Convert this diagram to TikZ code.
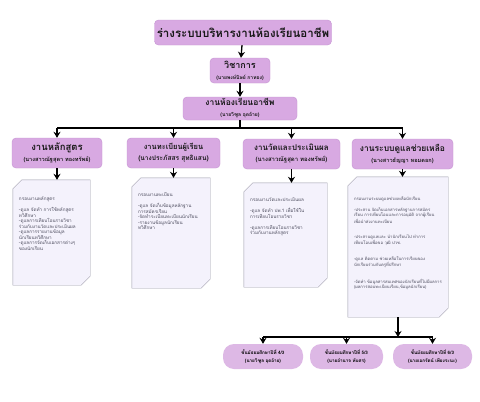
\documentclass[tikz,border=0pt]{standalone}
\usepackage{fontspec}
\newfontfamily\thaifont[Script=Thai]{Loma}
\usepackage{tikz}
\usetikzlibrary{
    arrows.meta,
    positioning,
    calc
}
\definecolor{headfill}{HTML}{D8A9E2}
\definecolor{headborder}{HTML}{C593D2}
\definecolor{pillfill}{HTML}{DDB8E5}
\definecolor{docfill}{HTML}{F4F2FC}
\definecolor{docborder}{HTML}{9C9AAA}
\definecolor{doctext}{HTML}{4A4A5C}
\tikzset{
    headbox/.style={
        rectangle, draw=headborder, fill=headfill,
        rounded corners=4pt, align=center, inner sep=1pt,
        font=\thaifont\bfseries, text=black!90
    },
    docarea/.style={
        rectangle, draw=none, inner sep=0pt
    },
    docline/.style={
        draw=docborder, fill=docfill, line width=0.4pt
    },
    docnote/.style={
        anchor=north west, align=left, inner sep=0pt,
        text=doctext, font=\thaifont\fontsize{4.6}{5.5}\selectfont
    },
    pill/.style={
        rectangle, fill=pillfill, rounded corners=11pt,
        align=center, inner sep=1pt,
        font=\thaifont\bfseries\fontsize{4.6}{8}\selectfont
    },
    flow/.style={
        -{Stealth[length=6pt,width=7pt]}, line width=1.3pt
    },
    bus/.style={
        line width=1.3pt
    },
}
\newcommand\docshape[1]{%
    \path[docline] ([xshift=9pt]#1.north west) -- (#1.north east)
        -- ([yshift=9pt]#1.south east) -- ([xshift=-9pt]#1.south east)
        -- (#1.south west) -- ([yshift=-9pt]#1.north west) -- cycle;}

\begin{document}
\begin{tikzpicture}[x=1pt, y=-1pt]

    \fill[white] (0,0) rectangle (480,402);
    \useasboundingbox (0,0) rectangle (480,402);

    % Top chain
    \node[headbox, minimum width=177pt, minimum height=25pt,
          font=\thaifont\bfseries\fontsize{11.5}{13}\selectfont] (title) at (243,32.5)
          {ร่างระบบบริหารงานห้องเรียนอาชีพ};
    \node[headbox, minimum width=60pt, minimum height=25pt] (acad) at (240,70.5)
          {{\fontsize{9}{10}\selectfont วิชาการ}\\[-1pt]{\fontsize{5}{6}\selectfont (นายพงษ์นิษย์ กาทอง)}};
    \node[headbox, minimum width=114pt, minimum height=23pt] (career) at (240,108.5)
          {{\fontsize{8.5}{10}\selectfont งานห้องเรียนอาชีพ}\\[-1pt]{\fontsize{5}{6}\selectfont (นายวิฑูล อุดอ้าย)}};

    \draw[flow] (title) -- (acad);
    \draw[flow] (acad) -- (career);

    % Work groups
    \node[headbox, minimum width=90pt, minimum height=30pt] (curr) at (57,153)
          {{\fontsize{9.5}{11}\selectfont งานหลักสูตร}\\[-1pt]{\fontsize{5.6}{7}\selectfont (นางสาวณัฐสุดา ทองทรัพย์)}};
    \node[headbox, minimum width=93pt, minimum height=30pt] (regis) at (173.5,153)
          {{\fontsize{7.5}{9}\selectfont งานทะเบียนผู้เรียน}\\[-1pt]{\fontsize{6.6}{8}\selectfont (นางประภัสสร สุทธิแสน)}};
    \node[headbox, minimum width=97pt, minimum height=30pt] (eval) at (291.5,154)
          {{\fontsize{8}{9.5}\selectfont งานวัดและประเมินผล}\\[-1pt]{\fontsize{6}{7}\selectfont (นางสาวณัฐสุดา ทองทรัพย์)}};
    \node[headbox, minimum width=101pt, minimum height=30pt] (care) at (402.5,154)
          {{\fontsize{8.5}{10}\selectfont งานระบบดูแลช่วยเหลือ}\\[-1pt]{\fontsize{5.6}{7}\selectfont (นางสาวธัญญา หอมดอก)}};

    \coordinate (split) at (career.south |- 0,128);
    \draw[bus] (career.south) -- (split);
    \draw[bus] (curr.north |- split) -- (care.north |- split);
    \foreach \g in {curr,regis,eval,care}
        \draw[flow] (\g.north |- split) -- (\g.north);

    % Task frames
    \node[docarea, minimum width=77pt, minimum height=105pt] (currdoc) at (51.5,232.5) {};
    \node[docarea, minimum width=78pt, minimum height=110pt] (regisdoc) at (171,233) {};
    \node[docarea, minimum width=83pt, minimum height=104pt] (evaldoc) at (285.5,235) {};
    \node[docarea, minimum width=100pt, minimum height=140pt] (caredoc) at (398,247) {};
    \foreach \d in {currdoc,regisdoc,evaldoc,caredoc}
        {\docshape{\d}}

    \foreach \g in {curr,regis,eval,care}
        \draw[flow] (\g.south) -- (\g.south |- \g doc.north);

    \node[docnote] (currtext) at ([xshift=6pt,yshift=-17pt]currdoc.north west) {
        กรอบงานหลักสูตร\\[5.5pt]
        -ดูแล จัดทำ การใช้หลักสูตร\\
        ทวิศึกษา\\
        -ดูแลการเทียบโอนรายวิชา\\
        ร่วมกับงานวัดและประเมินผล\\
        -ดูแลการรายงานข้อมูล\\
        นักเรียนทวิศึกษา\\
        -ดูแลการจัดเก็บเอกสารต่างๆ\\
        ของนักเรียน
    };
    \node[docnote] (registext) at ([xshift=6pt,yshift=-15pt]regisdoc.north west) {
        กรอบงานทะเบียน\\[5.5pt]
        -ดูแล จัดเก็บข้อมูลหลักฐาน\\
        การสมัครเรียน\\
        -จัดทำระเบียนทะเบียนนักเรียน\\
        -รายงานข้อมูลนักเรียน\\
        ทวิศึกษา
    };
    \node[docnote] (evaltext) at ([xshift=6pt,yshift=-15pt]evaldoc.north west) {
        กรอบงานวัดและประเมินผล\\[5.5pt]
        -ดูแล จัดทำ ปพ.1 เพื่อใช้ใน\\
        การเทียบโอนรายวิชา\\[5.5pt]
        -ดูแลการเทียบโอนรายวิชา\\
        ร่วมกับงานหลักสูตร
    };
    \node[docnote, font=\thaifont\fontsize{4.2}{5.2}\selectfont] (caretext)
          at ([xshift=6pt,yshift=-20pt]caredoc.north west) {
        กรอบงานระบบดูแลช่วยเหลือนักเรียน\\[6pt]
        -ประสาน จัดเก็บเอกสารหลักฐานการสมัคร\\
        เรียน การเทียบโอนและการอนุมัติ จากผู้เรียน\\
        เพื่อนำส่งงานทะเบียน\\[10pt]
        -ประสานดูแลและ นำนักเรียนไป ทำการ\\
        เทียบโอนเพื่อขอ วุฒิ ปวช.\\[10pt]
        -ดูแล ติดตาม ช่วยเหลือในการเรียนของ\\
        นักเรียนร่วมกับครูที่ปรึกษา\\[10pt]
        -จัดทำ ข้อมูลสารสนเทศของนักเรียนที่ไม่มีผลการ\\
        (ผลการสอบทะเบียนเรียน,ข้อมูลนักเรียน)
    };

    % Classes
    \node[pill, minimum width=80pt, minimum height=25pt] (m4) at (263,356.5)
          {ชั้นมัธยมศึกษาปีที่ 4/3\\(นายวิฑูล อุดอ้าย)};
    \node[pill, minimum width=73pt, minimum height=25pt] (m5) at (346.5,356.5)
          {ชั้นมัธยมศึกษาปีที่ 5/3\\(นายอำนาจ ทับศร)};
    \node[pill, minimum width=79pt, minimum height=25pt] (m6) at (432.5,356.5)
          {ชั้นมัธยมศึกษาปีที่ 6/3\\(นายเอกรัตน์ เพียงระนะ)};

    \coordinate (join) at (caredoc.south |- 0,337);
    \draw[flow] (caredoc.south) -- (join);
    \draw[bus] (m4.north |- join) -- (m6.north |- join);
    \foreach \m in {m4,m5,m6}
        \draw[flow] (\m.north |- join) -- (\m.north);

\end{tikzpicture}
\end{document}
